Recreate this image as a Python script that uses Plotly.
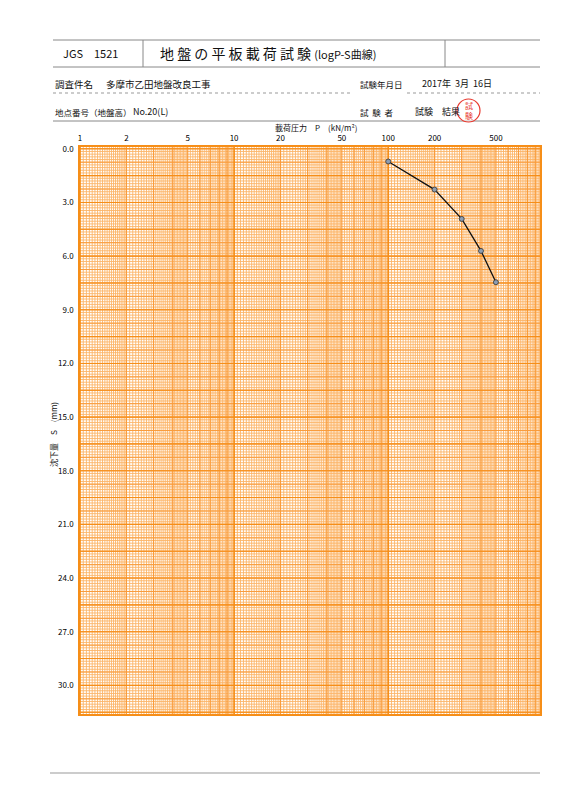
import numpy as np
import plotly.graph_objects as go

# load-settlement readings
load_kn = [100, 200, 300, 400, 500]
settle_mm = [0.71, 2.28, 3.92, 5.71, 7.46]

x_tick_vals = [1, 2, 5, 10, 20, 50, 100, 200, 500]
y_tick_vals = [0, 3, 6, 9, 12, 15, 18, 21, 24, 27, 30]

X_RANGE = [0, 2.985]
Y_RANGE = [31.6, -0.1]
FONT = "Noto Sans CJK JP"

# plot area in pixels (used to place the form around it)
L, R, T, B = 80, 540, 147, 714


def fx(p):
    return (p - L) / (R - L)


def fy(p):
    return (B - p) / (B - T)


def vlines(vals):
    xs, ys = [], []
    for v in vals:
        xs += [v, v, None]
        ys += [Y_RANGE[1], Y_RANGE[0], None]
    return xs, ys


def hlines(vals):
    xs, ys = [], []
    lo, hi = 10 ** X_RANGE[0], 10 ** X_RANGE[1]
    for v in vals:
        xs += [lo, hi, None]
        ys += [v, v, None]
    return xs, ys


# semi-log paper grid
fine_x, mid_x, major_x = [], [], []
for d in [1, 10, 100]:
    fine_x += list(d * np.arange(1.1, 5.0, 0.1))
    fine_x += list(d * np.arange(5.2, 10.0, 0.2))
    fine_x += list(d * np.arange(1.05, 2.0, 0.1))
    mid_x += [d * k for k in range(2, 10)]
    major_x.append(d)
fine_x = [v for v in fine_x if np.log10(v) <= X_RANGE[1]]
mid_x = [v for v in mid_x if np.log10(v) <= X_RANGE[1]]

fine_y = list(np.arange(0, 31.6, 0.15))
mid_y = list(np.arange(0, 31.6, 0.75))
major_y = list(np.arange(0, 31.6, 1.5))

fig = go.Figure()

# (x values, y values, colour, vertical width, horizontal width)
grid_levels = [
    (fine_x, fine_y, "#fcb468", 0.9, 0.9),
    (mid_x, mid_y, "#f99c3c", 1.2, 1.0),
    (major_x, major_y, "#f68e18", 1.7, 1.1),
]
for gx, gy, col, wv, wh in grid_levels:
    xs, ys = vlines(gx)
    fig.add_trace(go.Scatter(x=xs, y=ys, mode="lines",
                             line=dict(color=col, width=wv), hoverinfo="skip"))
    xs, ys = hlines(gy)
    fig.add_trace(go.Scatter(x=xs, y=ys, mode="lines",
                             line=dict(color=col, width=wh), hoverinfo="skip"))

fig.add_trace(go.Scatter(
    x=load_kn, y=settle_mm, mode="lines+markers",
    line=dict(color="#111111", width=1.3),
    marker=dict(size=5, color="#8c9db3", line=dict(color="#333333", width=0.8)),
))

fig.update_xaxes(
    type="log", range=X_RANGE, side="top",
    tickvals=x_tick_vals, ticktext=[str(v) for v in x_tick_vals],
    showgrid=False, zeroline=False, ticks="", ticklabelstandoff=1,
    tickfont=dict(family=FONT, size=8, color="#000000"),
    showline=True, linecolor="#f68e18", linewidth=1.5, mirror=True,
)
fig.update_yaxes(
    range=Y_RANGE,
    tickvals=y_tick_vals, ticktext=[f"{v:.1f}" for v in y_tick_vals],
    showgrid=False, zeroline=False, ticks="", ticklabelstandoff=3,
    tickfont=dict(family=FONT, size=8, color="#000000"),
    showline=True, linecolor="#f68e18", linewidth=1.5, mirror=True,
)

grey = "#888888"


def hline(x0, x1, y, color=grey, width=1, dash="solid"):
    return dict(type="line", xref="paper", yref="paper",
                x0=fx(x0), x1=fx(x1), y0=fy(y), y1=fy(y),
                line=dict(color=color, width=width, dash=dash))


def vline(x, y0, y1, color=grey, width=1):
    return dict(type="line", xref="paper", yref="paper",
                x0=fx(x), x1=fx(x), y0=fy(y0), y1=fy(y1),
                line=dict(color=color, width=width))


shapes = [
    hline(53, 540, 40),
    hline(53, 540, 67),
    vline(143, 40, 67),
    vline(445, 40, 67),
    hline(53, 350, 93, color="#999999", dash="dot"),
    hline(407, 540, 93, color="#999999", dash="dot"),
    hline(53, 540, 121),
    hline(50, 540, 773, color="#bbbbbb", width=1.5),
    dict(type="circle", xref="paper", yref="paper",
         x0=fx(457), x1=fx(480), y0=fy(99), y1=fy(122),
         line=dict(color="#e8392f", width=1.2), fillcolor="rgba(255,255,255,0.5)"),
]


def label(text, x, y, size=9.5, anchor="left", color="#111111", angle=0):
    return dict(text=text, x=fx(x), y=fy(y), xref="paper", yref="paper",
                xanchor=anchor, yanchor="middle", showarrow=False, textangle=angle,
                font=dict(family=FONT, size=size, color=color))


annotations = [
    label("JGS　1521", 61, 53, size=11),
    label("地 盤 の 平 板 載 荷 試 験 <span style='font-size:11px'>(logP-S曲線)</span>", 158, 53, size=14),
    label("調査件名", 53, 84),
    label("多摩市乙田地盤改良工事", 104, 84),
    label("試験年月日", 358, 84, size=8.5),
    label("2017年  3月  16日", 420, 84, size=9),
    label("地点番号（地盤高）", 53, 112, size=8.5),
    label("No.20(L)", 131, 112, size=9),
    label("試  験  者", 358, 112, size=8.5),
    label("試験　結果", 413, 112, size=9),
    label("試<br>験", 468.5, 110.5, size=8, anchor="center", color="#e8392f"),
    label("載荷圧力　P　(kN/m²)", 316, 128, size=8, anchor="center"),
    label("沈下量　S　(mm)", 53, 435, size=8, anchor="center", angle=-90),
]

fig.update_layout(
    width=566, height=800,
    margin=dict(l=L, r=566 - R, t=T, b=800 - B),
    paper_bgcolor="white", plot_bgcolor="white",
    showlegend=False,
    shapes=shapes, annotations=annotations,
)

fig.write_html("out.html", config={"displayModeBar": False},
               post_script="document.body.style.margin='0';")
